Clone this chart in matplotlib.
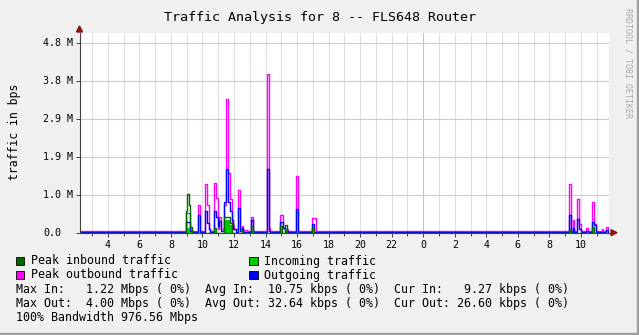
import matplotlib.pyplot as plt
from matplotlib.patches import Rectangle, Polygon

# hours since midnight of day 1 (step start), value in M bit/s
t_start, t_end = 2.2, 35.78

pout_t = [2.2, 8.95, 9.21, 9.33, 9.72, 9.84, 10.16, 10.29, 10.41, 10.5, 10.73, 10.86, 10.98,
          11.05, 11.17, 11.36, 11.49, 11.62, 11.74, 11.87, 12.0, 12.25, 12.38, 12.5, 12.6,
          12.65, 12.8, 13.08, 13.2, 14.09, 14.22, 14.3, 14.92, 15.1, 15.25, 15.4, 15.93,
          16.05, 16.94, 17.2, 33.24, 33.37, 33.49, 33.58, 33.75, 33.87, 34.0, 34.3, 34.43,
          34.68, 34.84, 34.97, 35.31, 35.4, 35.57, 35.69, 35.78]
pout_v = [0.04, 0.51, 0.1, 0.04, 0.71, 0.04, 1.23, 0.71, 0.1, 0.04, 1.27, 0.88, 0.1,
          0.41, 0.1, 0.71, 3.40, 1.51, 0.86, 0.2, 0.1, 1.09, 0.1, 0.18, 0.04,
          0.08, 0.04, 0.41, 0.04, 4.03, 0.12, 0.04, 0.45, 0.12, 0.1, 0.04, 1.44,
          0.04, 0.37, 0.04, 1.24, 0.04, 0.31, 0.04, 0.86, 0.23, 0.04, 0.13, 0.04,
          0.78, 0.23, 0.04, 0.1, 0.04, 0.15, 0.08, 0.08]

out_t = [2.2, 8.95, 9.21, 9.33, 9.72, 9.84, 10.16, 10.29, 10.41, 10.5, 10.73, 10.86, 10.98,
         11.05, 11.17, 11.36, 11.49, 11.62, 11.74, 11.87, 11.95, 12.1, 12.25, 12.38, 12.5,
         12.6, 13.08, 13.2, 14.09, 14.22, 14.3, 14.92, 15.1, 15.25, 15.4, 15.93, 16.05,
         16.94, 17.1, 33.24, 33.37, 33.49, 33.58, 33.75, 33.87, 34.0, 34.3, 34.43, 34.68,
         34.84, 34.97, 35.57, 35.69, 35.78]
out_v = [0.02, 0.28, 0.05, 0.02, 0.45, 0.02, 0.54, 0.24, 0.1, 0.02, 0.54, 0.41, 0.16,
         0.29, 0.05, 0.77, 1.61, 0.77, 0.54, 0.33, 0.1, 0.02, 0.62, 0.05, 0.12,
         0.02, 0.33, 0.02, 1.62, 0.05, 0.02, 0.27, 0.12, 0.05, 0.02, 0.60, 0.02,
         0.23, 0.02, 0.45, 0.02, 0.13, 0.02, 0.35, 0.1, 0.02, 0.05, 0.02, 0.28,
         0.2, 0.02, 0.08, 0.02, 0.02]

in_t = [2.2, 8.95, 9.21, 9.33, 10.73, 10.86, 11.36, 11.74, 11.87, 12.5, 12.6, 13.08, 13.2,
        14.92, 15.04, 15.23, 15.36, 16.94, 17.07, 33.24, 33.37, 34.68, 34.8, 35.78]
in_v = [0.0, 0.13, 0.03, 0.0, 0.08, 0.0, 0.33, 0.2, 0.0, 0.05, 0.0, 0.08, 0.0,
        0.1, 0.0, 0.1, 0.0, 0.08, 0.0, 0.04, 0.0, 0.12, 0.0, 0.0]

pin_t = [2.2, 8.95, 9.02, 9.14, 9.21, 9.33, 10.73, 10.86, 11.36, 11.74, 11.87, 12.5, 12.6,
         13.08, 13.2, 14.92, 15.04, 15.23, 15.36, 16.94, 17.07, 33.24, 33.37, 34.68, 34.8, 35.78]
pin_v = [0.0, 0.55, 0.99, 0.71, 0.15, 0.0, 0.12, 0.0, 0.41, 0.25, 0.0, 0.08, 0.0,
         0.16, 0.0, 0.18, 0.0, 0.20, 0.0, 0.12, 0.0, 0.08, 0.0, 0.15, 0.0, 0.0]

x_ticks = list(range(4, 36, 2))
x_labels = [str(h % 24) for h in x_ticks]
y_ticks = [0.96, 1.92, 2.88, 3.84, 4.8]
y_labels = ['1.0 M', '1.9 M', '2.9 M', '3.8 M', '4.8 M']

legend_rows = [('Peak inbound traffic', '#006600', 'Incoming traffic', '#00cc00'),
               ('Peak outbound traffic', '#ff00ff', 'Outgoing traffic', '#0000ff')]
stats = ['Max In:   1.22 Mbps ( 0%)  Avg In:  10.75 kbps ( 0%)  Cur In:   9.27 kbps ( 0%)',
         'Max Out:  4.00 Mbps ( 0%)  Avg Out: 32.64 kbps ( 0%)  Cur Out: 26.60 kbps ( 0%)',
         '100% Bandwidth 976.56 Mbps']

W, H = 639, 335
mono = 'DejaVu Sans Mono'


def px(x, y):
    return x / W, 1 - y / H


fig = plt.figure(figsize=(W / 100, H / 100), dpi=100, facecolor='#f0f0f0')
left, right, top, bottom = 79.5, 609, 33, 232.7
ax = fig.add_axes([left / W, 1 - bottom / H, (right - left) / W, (bottom - top) / H])
ax.set_facecolor('white')
ax.set_xlim(t_start, t_end)
ax.set_ylim(0, 5.06)

# grid
for h in range(3, 36):
    ax.axvline(h, color='#e8b4b4' if h == 24 else '#dedede', lw=0.8, zorder=0)
for y in y_ticks:
    ax.axhline(y, color='#e8c0c0', lw=0.8, zorder=0)

ax.step(pout_t, pout_v, where='post', color='#ff00ff', lw=1.0, zorder=2)
ax.step(out_t, out_v, where='post', color='#0000ff', lw=1.0, zorder=3)
ax.fill_between(in_t, in_v, step='post', color='#00cc00', lw=0, zorder=4)
ax.step(pin_t, pin_v, where='post', color='#006600', lw=1.0, zorder=5)

for s in ['top', 'right']:
    ax.spines[s].set_visible(False)
for s in ['left', 'bottom']:
    ax.spines[s].set_color('#404040')
    ax.spines[s].set_linewidth(0.8)
    ax.spines[s].set_zorder(6)

ax.set_xticks(x_ticks)
ax.set_xticklabels(x_labels, family=mono, fontsize=7.2)
ax.set_xticks(range(3, 36), minor=True)
ax.tick_params(axis='x', which='major', length=3, width=0.7, color='#404040', pad=2)
ax.tick_params(axis='x', which='minor', length=2, width=0.7, color='#404040')
ax.set_yticks([0] + y_ticks)
ax.set_yticklabels([])
ax.tick_params(axis='y', length=3, width=0.7, color='#404040')

for y, lab in zip([0] + y_ticks, ['0.0'] + y_labels):
    yp = bottom - y / 0.96 * 37.9
    fig.text(*px(43, yp), lab, family=mono, fontsize=7.2, ha='left', va='center')

# arrows
fig.patches.append(Polygon([px(76.5, 32), px(82.5, 32), px(79.5, 26)], closed=True,
                           color='#8b1010', transform=fig.transFigure))
fig.patches.append(Polygon([px(611, 229.7), px(611, 235.7), px(617, 232.7)], closed=True,
                           color='#8b1010', transform=fig.transFigure))
fig.lines.append(plt.Line2D([right / W, 611 / W], [1 - bottom / H] * 2, color='#404040',
                            lw=0.8, transform=fig.transFigure))

fig.text(*px(320, 17), 'Traffic Analysis for 8 -- FLS648 Router', family=mono,
         fontsize=9.6, ha='center', va='center')
fig.text(*px(15, 131.7), 'traffic in bps', family=mono, fontsize=8.3, rotation=90,
         ha='center', va='center')
fig.text(*px(628, 8), 'RRDTOOL / TOBI OETIKER', family=mono, fontsize=6, rotation=270,
         ha='center', va='top', color='#aaaaaa')

# legend
row_y = [261, 275, 289, 303, 317]
for i, (lab1, c1, lab2, c2) in enumerate(legend_rows):
    for bx, tx, lab, c in [(16, 30.7, lab1, c1), (249.5, 264, lab2, c2)]:
        x0, y0 = px(bx, row_y[i] + 4)
        fig.patches.append(Rectangle((x0, y0), 8 / W, 8 / H, facecolor=c, edgecolor='black',
                                     lw=0.6, transform=fig.transFigure))
        fig.text(*px(tx, row_y[i]), lab, family=mono, fontsize=8.4, ha='left', va='center')
for i, line in enumerate(stats):
    fig.text(*px(16, row_y[i + 2]), line, family=mono, fontsize=8.4, ha='left', va='center')

# 3d frame
fig.patches.append(Rectangle((0, 0), 1, 2.5 / H, color='#9e9e9e', transform=fig.transFigure))
fig.patches.append(Rectangle((1 - 2.5 / W, 0), 2.5 / W, 1, color='#9e9e9e',
                             transform=fig.transFigure))

fig.savefig('out.png', dpi=100, facecolor=fig.get_facecolor())
